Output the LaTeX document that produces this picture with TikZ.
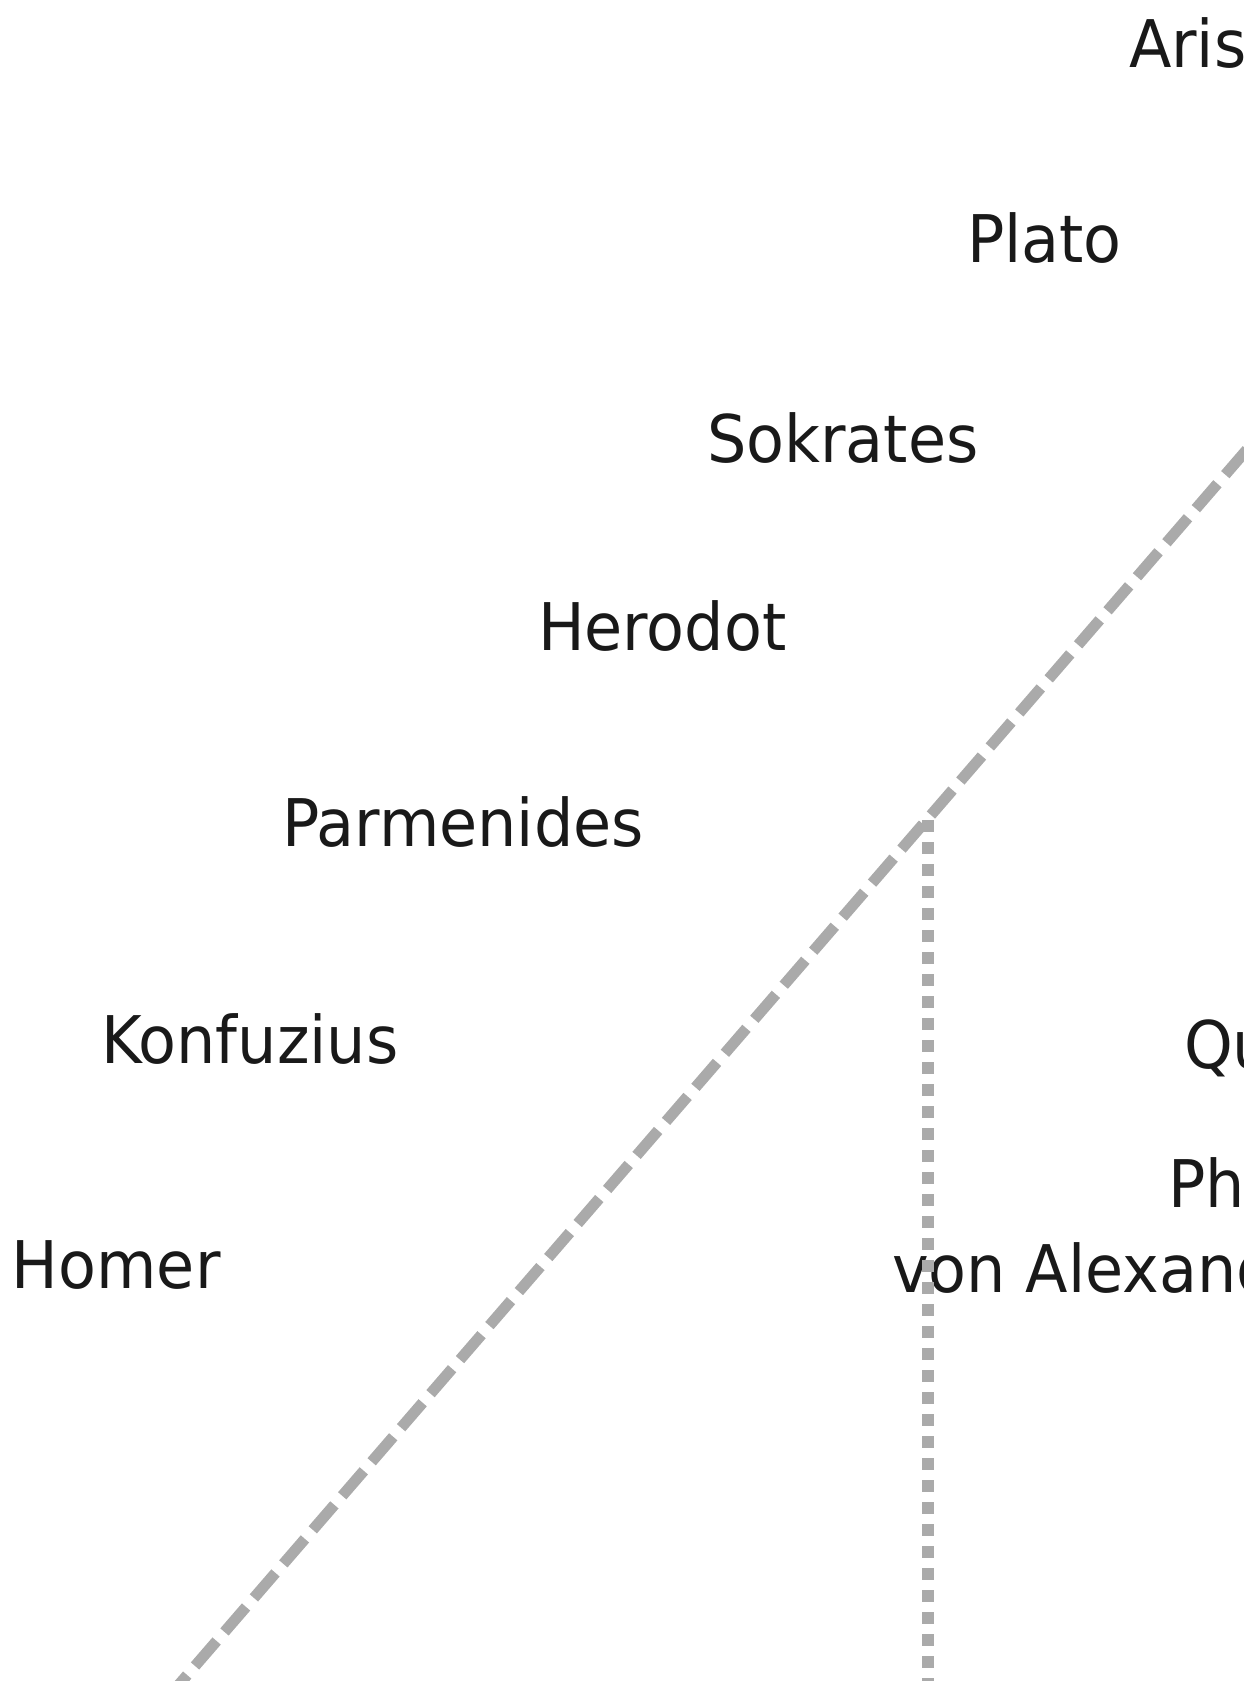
\documentclass[tikz,border=0pt]{standalone}
\usepackage{fontspec}
\setmainfont{DejaVu Sans}
\definecolor{linegray}{RGB}{170,170,170}
\definecolor{textcol}{RGB}{25,25,25}
\newcommand{\tallt}[1]{\scalebox{1}[1.06]{#1}}
\begin{document}
\begin{tikzpicture}[x=1pt,y=-1pt,
  lbl/.style={anchor=base west,inner sep=0pt,outer sep=0pt,text=textcol,
    font=\fontsize{62}{74}\selectfont},
  dashline/.style={draw=linegray,line width=11pt,dash pattern=on 33pt off 12pt},
  dotline/.style={draw=linegray,line width=12pt,dash pattern=on 12pt off 10pt}]
\path[use as bounding box] (0,0) rectangle (1244,1681);
\clip (0,0) rectangle (1244,1681);
% labels
\node[lbl] (aristoteles) at (1129,67) {\tallt{Aristoteles}};
\node[lbl] (plato) at (967,262) {\tallt{Plato}};
\node[lbl] (sokrates) at (707,462) {\tallt{Sokrates}};
\node[lbl] (herodot) at (538,650) {\tallt{Herodot}};
\node[lbl] (parmenides) at (282,846) {\tallt{Parmenides}};
\node[lbl] (konfuzius) at (101,1063) {\tallt{Konfuzius}};
\node[lbl] (homer) at (12,1288) {\tallt{Homer}};
\node[lbl] (quintus) at (1184,1068) {\tallt{Qumran}};
\node[lbl] (philon1) at (1168,1207) {\tallt{Philon}};
\node[lbl] (philon2) at (892,1292) {\tallt{von Alexandria}};
% connectors
\coordinate (dA) at (165.6,1700);
\coordinate (dB) at (1260,434.5);
\coordinate (j) at (928,820);
\coordinate (jb) at (928,1700);
\path[dashline] (dA) -- (dB);
\path[dotline] (j) -- (jb);
\end{tikzpicture}
\end{document}
